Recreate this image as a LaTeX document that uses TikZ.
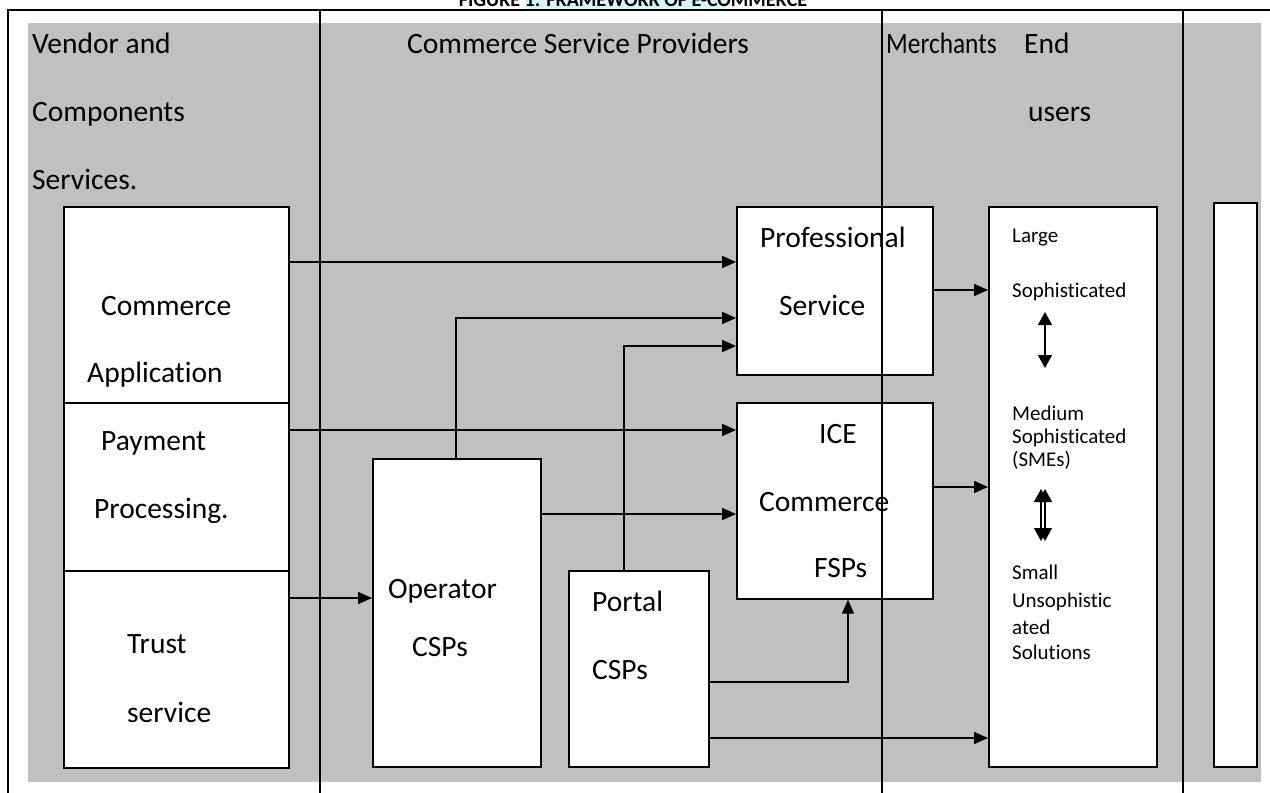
\documentclass[tikz,border=0pt]{standalone}
\usepackage{fontspec}
\setmainfont{Carlito}[Ligatures=NoCommon]
\usetikzlibrary{arrows.meta}
\definecolor{panel}{RGB}{192,192,192}
\definecolor{glow}{RGB}{215,245,250}
\begin{document}
\begin{tikzpicture}[x=1pt,y=-1pt,
  box/.style={draw=black,line width=1.7pt,fill=white,inner sep=0pt,anchor=north west},
  lbl/.style={anchor=base west,inner sep=0pt,font=\fontsize{29.5}{35}\selectfont},
  small/.style={anchor=base west,inner sep=0pt,font=\fontsize{21}{25}\selectfont},
  arr/.style={line width=1.5pt,-{Triangle[length=14pt,width=12pt]}},
  dbl/.style={line width=1.5pt,{Triangle[length=13pt,width=14pt]}-{Triangle[length=13pt,width=14pt]}},
  rule/.style={line width=1.6pt}]
\useasboundingbox (0,0) rectangle (1270,793);
\fill[white] (0,0) rectangle (1270,793);

% caption, cut by the top edge of the page
\fill[glow] (525,0) rectangle (725,9);
\node[anchor=base,inner sep=0pt,font=\bfseries\fontsize{20}{24}\selectfont] (title) at (633,6.5) {FIGURE 1: FRAMEWORK OF E-COMMERCE};

% grey panel
\fill[panel] (28,23) rectangle (1261,782);

% column headings
\node[lbl] (h1a) at (32,53) {Vendor and};
\node[lbl] (h1b) at (32,121) {Components};
\node[lbl] (h1c) at (32,189) {Services.};
\node[lbl] (h2) at (407,53) {Commerce Service Providers};
\node[lbl] (h3) at (886,53) {\scalebox{0.86}[1]{Merchants}};
\node[lbl] (h4a) at (1024,53) {End};
\node[lbl] (h4b) at (1028,121) {users};

% vendor stack
\node[box,minimum width=225pt,minimum height=196pt] (ca) at (63,206) {};
\node[box,minimum width=225pt,minimum height=168pt] (pp) at (63,402) {};
\node[box,minimum width=225pt,minimum height=197pt] (ts) at (63,570) {};
\node[lbl] (caT1) at (101,315) {Commerce};
\node[lbl] (caT2) at (87,382) {Application};
\node[lbl] (ppT1) at (101,450) {Payment};
\node[lbl] (ppT2) at (94,518) {Processing.};
\node[lbl] (tsT1) at (127,653) {Trust};
\node[lbl] (tsT2) at (127,722) {service};

% service providers
\node[box,minimum width=168pt,minimum height=308pt] (op) at (372,458) {};
\node[lbl] (opT1) at (388,598) {Operator};
\node[lbl] (opT2) at (412,656) {CSPs};
\node[box,minimum width=140pt,minimum height=196pt] (po) at (568,570) {};
\node[lbl] (poT1) at (592,611) {Portal};
\node[lbl] (poT2) at (592,679) {CSPs};
\node[box,minimum width=196pt,minimum height=168pt] (pr) at (736,206) {};
\node[lbl] (prT1) at (760,247) {Professional};
\node[lbl] (prT2) at (779,315) {Service};
\node[box,minimum width=196pt,minimum height=196pt] (ice) at (736,402) {};
\node[lbl] (iceT1) at (819,443) {ICE};
\node[lbl] (iceT2) at (759,511) {Commerce};
\node[lbl] (iceT3) at (814,577) {FSPs};

% end users
\node[box,minimum width=168pt,minimum height=560pt] (eu) at (988,206) {};
\node[small] (euL1) at (1012,242) {Large};
\node[small] (euL2) at (1012,297) {Sophisticated};
\node[small] (euM1) at (1012,420) {Medium};
\node[small] (euM2) at (1012,443) {Sophisticated};
\node[small] (euM3) at (1012,466) {(SMEs)};
\node[small] (euS1) at (1012,579) {Small};
\node[small] (euS2) at (1012,607) {Unsophistic};
\node[small] (euS3) at (1012,634) {ated};
\node[small] (euS4) at (1012,659) {Solutions};
\coordinate (d1a) at (1045,312);
\coordinate (d1b) at (1045,368);
\coordinate (d2a) at (1045,489);
\coordinate (d2b) at (1045,541);
\coordinate (d3a) at (1041,489);
\coordinate (d3b) at (1041,541);
\draw[dbl] (d1a) -- (d1b);
\draw[dbl] (d2a) -- (d2b);
\draw[dbl] (d3a) -- (d3b);

% right-hand box
\node[box,minimum width=43pt,minimum height=564pt] (rb) at (1213,202) {};

% flows
\draw[arr] (ca.east |- 0,262) -- (pr.west |- 0,262);
\draw[arr] (op.north -| 456,0) |- (pr.west |- 0,318);
\draw[arr] (po.north -| 624,0) |- (pr.west |- 0,346);
\draw[arr] (pp.east |- 0,430) -- (ice.west |- 0,430);
\draw[arr] (op.east |- 0,514) -- (ice.west |- 0,514);
\draw[arr] (ts.east |- 0,598) -- (op.west |- 0,598);
\draw[arr] (po.east |- 0,682) -| (ice.south -| 848,0);
\draw[arr] (po.east |- 0,738) -- (eu.west |- 0,738);
\draw[arr] (pr.east |- 0,290) -- (eu.west |- 0,290);
\draw[arr] (ice.east |- 0,487) -- (eu.west |- 0,487);

% table rules
\draw[rule] (8,793) -- (8,10) -- (1270,10);
\draw[rule] (320,10) -- (320,793);
\draw[rule] (882,10) -- (882,793);
\draw[rule] (1183,10) -- (1183,793);
\end{tikzpicture}
\end{document}
